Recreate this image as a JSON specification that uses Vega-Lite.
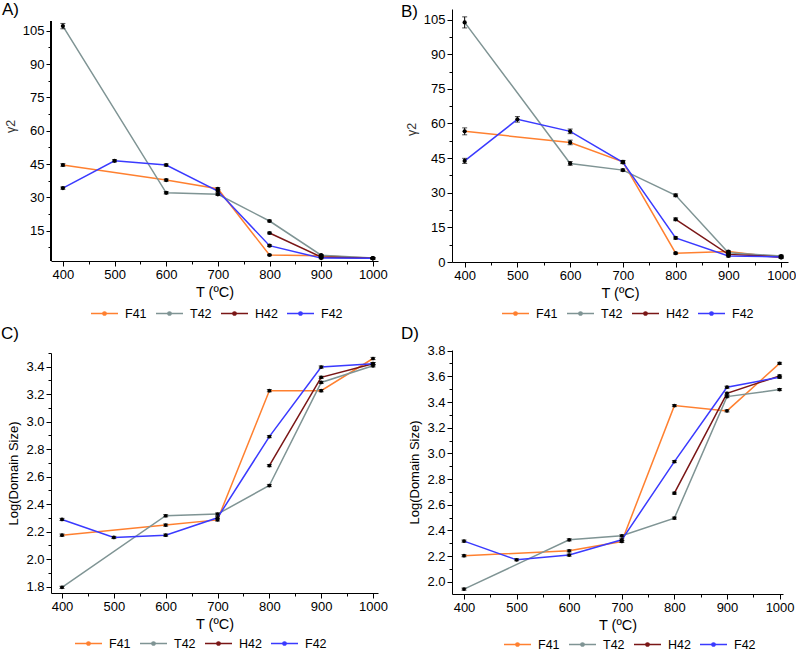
{
  "$schema": "https://vega.github.io/schema/vega-lite/v6.json",
  "autosize": {"type": "pad"},
  "padding": {"left": 1, "top": 1, "right": 0, "bottom": 0},
  "background": "white",
  "config": {
    "font": "Liberation Sans",
    "view": {"stroke": null},
    "axis": {"grid": false, "domainColor": "black", "tickColor": "black", "labelColor": "black", "labelFont": "Liberation Sans", "labelFontSize": 13, "labelPadding": 2, "titleFont": "Liberation Sans", "titleFontWeight": "normal", "titleColor": "black", "domainWidth": 1, "tickWidth": 1, "format": "d"},
    "axisX": {"titleFontSize": 14.5, "titlePadding": 4},
    "axisY": {"titleFontSize": 13, "titlePadding": 5},
    "title": {"font": "Liberation Sans", "fontSize": 17, "fontWeight": "normal", "color": "black", "anchor": "start", "frame": "group"},
    "legend": {"labelFont": "Liberation Sans", "labelFontSize": 12.5, "labelColor": "black"}
  },
  "data": {"values": [
    {"panel": "A", "series": "F41", "T": 400, "v": 44.6, "err": 0.6},
    {"panel": "A", "series": "F41", "T": 600, "v": 37.8, "err": 0.5},
    {"panel": "A", "series": "F41", "T": 700, "v": 33.9, "err": 0.5},
    {"panel": "A", "series": "F41", "T": 800, "v": 4.1, "err": 0.3},
    {"panel": "A", "series": "F41", "T": 900, "v": 3.8, "err": 0.3},
    {"panel": "A", "series": "F41", "T": 1000, "v": 2.6, "err": 0.3},
    {"panel": "A", "series": "T42", "T": 400, "v": 107.1, "err": 1.2},
    {"panel": "A", "series": "T42", "T": 600, "v": 32.1, "err": 0.5},
    {"panel": "A", "series": "T42", "T": 700, "v": 31.4, "err": 0.5},
    {"panel": "A", "series": "T42", "T": 800, "v": 19.4, "err": 0.4},
    {"panel": "A", "series": "T42", "T": 900, "v": 4.0, "err": 0.3},
    {"panel": "A", "series": "T42", "T": 1000, "v": 2.7, "err": 0.3},
    {"panel": "A", "series": "H42", "T": 800, "v": 14.0, "err": 0.4},
    {"panel": "A", "series": "H42", "T": 900, "v": 3.2, "err": 0.3},
    {"panel": "A", "series": "H42", "T": 1000, "v": 2.6, "err": 0.3},
    {"panel": "A", "series": "F42", "T": 400, "v": 34.2, "err": 0.5},
    {"panel": "A", "series": "F42", "T": 500, "v": 46.5, "err": 0.5},
    {"panel": "A", "series": "F42", "T": 600, "v": 44.6, "err": 0.5},
    {"panel": "A", "series": "F42", "T": 700, "v": 32.9, "err": 0.5},
    {"panel": "A", "series": "F42", "T": 800, "v": 8.3, "err": 0.4},
    {"panel": "A", "series": "F42", "T": 900, "v": 2.7, "err": 0.3},
    {"panel": "A", "series": "F42", "T": 1000, "v": 2.6, "err": 0.3},
    {"panel": "B", "series": "F41", "T": 400, "v": 56.6, "err": 1.5},
    {"panel": "B", "series": "F41", "T": 600, "v": 51.8, "err": 1.0},
    {"panel": "B", "series": "F41", "T": 700, "v": 43.4, "err": 0.6},
    {"panel": "B", "series": "F41", "T": 800, "v": 3.8, "err": 0.4},
    {"panel": "B", "series": "F41", "T": 900, "v": 4.5, "err": 0.4},
    {"panel": "B", "series": "F41", "T": 1000, "v": 1.9, "err": 0.4},
    {"panel": "B", "series": "T42", "T": 400, "v": 103.8, "err": 2.4},
    {"panel": "B", "series": "T42", "T": 600, "v": 42.7, "err": 0.8},
    {"panel": "B", "series": "T42", "T": 700, "v": 39.8, "err": 0.5},
    {"panel": "B", "series": "T42", "T": 800, "v": 28.9, "err": 0.6},
    {"panel": "B", "series": "T42", "T": 900, "v": 4.0, "err": 0.4},
    {"panel": "B", "series": "T42", "T": 1000, "v": 2.6, "err": 0.4},
    {"panel": "B", "series": "H42", "T": 800, "v": 18.5, "err": 0.6},
    {"panel": "B", "series": "H42", "T": 900, "v": 3.3, "err": 0.4},
    {"panel": "B", "series": "H42", "T": 1000, "v": 2.2, "err": 0.4},
    {"panel": "B", "series": "F42", "T": 400, "v": 43.8, "err": 1.1},
    {"panel": "B", "series": "F42", "T": 500, "v": 61.8, "err": 1.2},
    {"panel": "B", "series": "F42", "T": 600, "v": 56.6, "err": 1.0},
    {"panel": "B", "series": "F42", "T": 700, "v": 43.2, "err": 0.6},
    {"panel": "B", "series": "F42", "T": 800, "v": 10.4, "err": 0.5},
    {"panel": "B", "series": "F42", "T": 900, "v": 2.6, "err": 0.4},
    {"panel": "B", "series": "F42", "T": 1000, "v": 2.2, "err": 0.4},
    {"panel": "C", "series": "F41", "T": 400, "v": 2.175, "err": 0.008},
    {"panel": "C", "series": "F41", "T": 600, "v": 2.248, "err": 0.008},
    {"panel": "C", "series": "F41", "T": 700, "v": 2.286, "err": 0.008},
    {"panel": "C", "series": "F41", "T": 800, "v": 3.226, "err": 0.008},
    {"panel": "C", "series": "F41", "T": 900, "v": 3.226, "err": 0.008},
    {"panel": "C", "series": "F41", "T": 1000, "v": 3.46, "err": 0.008},
    {"panel": "C", "series": "T42", "T": 400, "v": 1.795, "err": 0.008},
    {"panel": "C", "series": "T42", "T": 600, "v": 2.316, "err": 0.008},
    {"panel": "C", "series": "T42", "T": 700, "v": 2.328, "err": 0.008},
    {"panel": "C", "series": "T42", "T": 800, "v": 2.536, "err": 0.008},
    {"panel": "C", "series": "T42", "T": 900, "v": 3.286, "err": 0.008},
    {"panel": "C", "series": "T42", "T": 1000, "v": 3.407, "err": 0.008},
    {"panel": "C", "series": "H42", "T": 800, "v": 2.681, "err": 0.008},
    {"panel": "C", "series": "H42", "T": 900, "v": 3.323, "err": 0.008},
    {"panel": "C", "series": "H42", "T": 1000, "v": 3.422, "err": 0.008},
    {"panel": "C", "series": "F42", "T": 400, "v": 2.289, "err": 0.008},
    {"panel": "C", "series": "F42", "T": 500, "v": 2.158, "err": 0.008},
    {"panel": "C", "series": "F42", "T": 600, "v": 2.175, "err": 0.008},
    {"panel": "C", "series": "F42", "T": 700, "v": 2.301, "err": 0.008},
    {"panel": "C", "series": "F42", "T": 800, "v": 2.892, "err": 0.008},
    {"panel": "C", "series": "F42", "T": 900, "v": 3.398, "err": 0.008},
    {"panel": "C", "series": "F42", "T": 1000, "v": 3.422, "err": 0.008},
    {"panel": "D", "series": "F41", "T": 400, "v": 2.203, "err": 0.008},
    {"panel": "D", "series": "F41", "T": 600, "v": 2.241, "err": 0.008},
    {"panel": "D", "series": "F41", "T": 700, "v": 2.314, "err": 0.008},
    {"panel": "D", "series": "F41", "T": 800, "v": 3.372, "err": 0.008},
    {"panel": "D", "series": "F41", "T": 900, "v": 3.331, "err": 0.008},
    {"panel": "D", "series": "F41", "T": 1000, "v": 3.701, "err": 0.008},
    {"panel": "D", "series": "T42", "T": 400, "v": 1.943, "err": 0.008},
    {"panel": "D", "series": "T42", "T": 600, "v": 2.327, "err": 0.008},
    {"panel": "D", "series": "T42", "T": 700, "v": 2.358, "err": 0.008},
    {"panel": "D", "series": "T42", "T": 800, "v": 2.496, "err": 0.008},
    {"panel": "D", "series": "T42", "T": 900, "v": 3.442, "err": 0.008},
    {"panel": "D", "series": "T42", "T": 1000, "v": 3.497, "err": 0.008},
    {"panel": "D", "series": "H42", "T": 800, "v": 2.690, "err": 0.008},
    {"panel": "D", "series": "H42", "T": 900, "v": 3.468, "err": 0.008},
    {"panel": "D", "series": "H42", "T": 1000, "v": 3.603, "err": 0.008},
    {"panel": "D", "series": "F42", "T": 400, "v": 2.317, "err": 0.008},
    {"panel": "D", "series": "F42", "T": 500, "v": 2.171, "err": 0.008},
    {"panel": "D", "series": "F42", "T": 600, "v": 2.208, "err": 0.008},
    {"panel": "D", "series": "F42", "T": 700, "v": 2.327, "err": 0.008},
    {"panel": "D", "series": "F42", "T": 800, "v": 2.936, "err": 0.008},
    {"panel": "D", "series": "F42", "T": 900, "v": 3.515, "err": 0.008},
    {"panel": "D", "series": "F42", "T": 1000, "v": 3.593, "err": 0.008}
  ]},
  "spacing": 13,
  "resolve": {"legend": {"color": "independent"}, "scale": {"x": "independent", "y": "independent"}},
  "hconcat": [
    {
      "spacing": 4,
      "resolve": {"legend": {"color": "independent"}, "scale": {"x": "independent", "y": "independent"}},
      "vconcat": [
        {
          "width": 327, "height": 252,
          "title": {"text": "A)", "dx": -49, "offset": -10},
          "transform": [{"filter": "datum.panel === 'A'"}],
          "encoding": {
            "x": {"field": "T", "type": "quantitative", "scale": {"domain": [377, 1010], "nice": false, "zero": false},
              "axis": {"title": "T (ºC)", "values": [400, 450, 500, 550, 600, 650, 700, 750, 800, 850, 900, 950, 1000], "labelExpr": "datum.value % 100 === 0 ? datum.label : ''", "tickSize": {"condition": {"test": "datum.value % 100 !== 0", "value": 3}, "value": 5}}},
            "y": {"field": "v", "type": "quantitative", "scale": {"domain": [1.4, 114.8], "nice": false, "zero": false},
              "axis": {"title": "γ2", "domain": false, "titleFontSize": 12.5, "titleColor": "#333333", "titleY": 117, "values": [7.5, 15, 22.5, 30, 37.5, 45, 52.5, 60, 67.5, 75, 82.5, 90, 97.5, 105], "labelExpr": "datum.value % 15 === 0 ? datum.label : ''", "tickSize": {"condition": {"test": "datum.value % 15 !== 0", "value": 3}, "value": 5}}}
          },
          "layer": [
            {"mark": {"type": "rule", "color": "black", "strokeWidth": 1},
             "encoding": {"x": {"datum": 377, "type": "quantitative"}, "y": {"datum": 1.4, "type": "quantitative"}, "y2": {"datum": 109.4}}},
            {"mark": {"type": "line", "strokeWidth": 1.5},
             "encoding": {"color": {"field": "series", "type": "nominal",
               "scale": {"domain": ["F41", "T42", "H42", "F42"], "range": ["#ff8030", "#7f9494", "#7a1616", "#3a3aff"]},
               "legend": {"orient": "none", "legendX": 39, "legendY": 290, "direction": "horizontal", "title": null, "symbolType": "M-1,0L1,0M-0.12,0A0.12,0.12,0,1,1,0.12,0A0.12,0.12,0,1,1,-0.12,0", "symbolSize": 729, "symbolStrokeWidth": 1.5, "labelOffset": 6, "columnPadding": 6}}}},
            {"mark": {"type": "errorbar", "ticks": {"size": 5, "color": "black"}, "rule": {"color": "black"}, "color": "black"},
             "encoding": {"yError": {"field": "err"}}},
            {"mark": {"type": "circle", "color": "black", "size": 18, "opacity": 1}}
          ]
        },
        {
          "width": 327, "height": 240,
          "title": {"text": "C)", "dx": -50, "offset": 10},
          "transform": [{"filter": "datum.panel === 'C'"}],
          "encoding": {
            "x": {"field": "T", "type": "quantitative", "scale": {"domain": [378.8, 1009.6], "nice": false, "zero": false},
              "axis": {"title": "T (ºC)", "values": [400, 450, 500, 550, 600, 650, 700, 750, 800, 850, 900, 950, 1000], "labelExpr": "datum.value % 100 === 0 ? datum.label : ''", "tickSize": {"condition": {"test": "datum.value % 100 !== 0", "value": 3}, "value": 5}}},
            "y": {"field": "v", "type": "quantitative", "scale": {"domain": [1.754, 3.5], "nice": false, "zero": false},
              "axis": {"title": "Log(Domain Size)", "values": [1.8, 1.9, 2.0, 2.1, 2.2, 2.3, 2.4, 2.5, 2.6, 2.7, 2.8, 2.9, 3.0, 3.1, 3.2, 3.3, 3.4, 3.5], "labelExpr": "round(datum.value*10) % 2 === 0 ? format(datum.value, '.1f') : ''", "tickSize": {"condition": {"test": "round(datum.value*10) % 2 !== 0", "value": 3}, "value": 5}}}
          },
          "layer": [
            {"mark": {"type": "line", "strokeWidth": 1.5},
             "encoding": {"color": {"field": "series", "type": "nominal",
               "scale": {"domain": ["F41", "T42", "H42", "F42"], "range": ["#ff8030", "#7f9494", "#7a1616", "#3a3aff"]},
               "legend": {"orient": "none", "legendX": 23, "legendY": 276, "direction": "horizontal", "title": null, "symbolType": "M-1,0L1,0M-0.12,0A0.12,0.12,0,1,1,0.12,0A0.12,0.12,0,1,1,-0.12,0", "symbolSize": 729, "symbolStrokeWidth": 1.5, "labelOffset": 6, "columnPadding": 6}}}},
            {"mark": {"type": "errorbar", "ticks": {"size": 5, "color": "black"}, "rule": {"color": "black"}, "color": "black"},
             "encoding": {"yError": {"field": "err"}}},
            {"mark": {"type": "circle", "color": "black", "size": 14, "opacity": 1}}
          ]
        }
      ]
    },
    {
      "spacing": 4,
      "resolve": {"legend": {"color": "independent"}, "scale": {"x": "independent", "y": "independent"}},
      "vconcat": [
        {
          "width": 336, "height": 253,
          "title": {"text": "B)", "dx": -51, "offset": -12},
          "transform": [{"filter": "datum.panel === 'B'"}],
          "encoding": {
            "x": {"field": "T", "type": "quantitative", "scale": {"domain": [376, 1013], "nice": false, "zero": false},
              "axis": {"title": "T (ºC)", "values": [400, 450, 500, 550, 600, 650, 700, 750, 800, 850, 900, 950, 1000], "labelExpr": "datum.value % 100 === 0 ? datum.label : ''", "tickSize": {"condition": {"test": "datum.value % 100 !== 0", "value": 3}, "value": 5}}},
            "y": {"field": "v", "type": "quantitative", "scale": {"domain": [0, 109.6], "nice": false, "zero": false},
              "axis": {"title": "γ2", "titleFontSize": 12.5, "titleColor": "#333333", "titleY": 120, "values": [0, 7.5, 15, 22.5, 30, 37.5, 45, 52.5, 60, 67.5, 75, 82.5, 90, 97.5, 105], "labelExpr": "datum.value % 15 === 0 ? datum.label : ''", "tickSize": {"condition": {"test": "datum.value % 15 !== 0", "value": 3}, "value": 5}}}
          },
          "layer": [
            {"mark": {"type": "line", "strokeWidth": 1.5},
             "encoding": {"color": {"field": "series", "type": "nominal",
               "scale": {"domain": ["F41", "T42", "H42", "F42"], "range": ["#ff8030", "#7f9494", "#7a1616", "#3a3aff"]},
               "legend": {"orient": "none", "legendX": 49, "legendY": 290, "direction": "horizontal", "title": null, "symbolType": "M-1,0L1,0M-0.12,0A0.12,0.12,0,1,1,0.12,0A0.12,0.12,0,1,1,-0.12,0", "symbolSize": 729, "symbolStrokeWidth": 1.5, "labelOffset": 6, "columnPadding": 6}}}},
            {"mark": {"type": "errorbar", "ticks": {"size": 5, "color": "black"}, "rule": {"color": "black"}, "color": "black"},
             "encoding": {"yError": {"field": "err"}}},
            {"mark": {"type": "circle", "color": "black", "size": 18, "opacity": 1}}
          ]
        },
        {
          "width": 331, "height": 244,
          "title": {"text": "D)", "dx": -51, "offset": 2},
          "transform": [{"filter": "datum.panel === 'D'"}],
          "encoding": {
            "x": {"field": "T", "type": "quantitative", "scale": {"domain": [377.2, 1006.5], "nice": false, "zero": false},
              "axis": {"title": "T (ºC)", "values": [400, 450, 500, 550, 600, 650, 700, 750, 800, 850, 900, 950, 1000], "labelExpr": "datum.value % 100 === 0 ? datum.label : ''", "tickSize": {"condition": {"test": "datum.value % 100 !== 0", "value": 3}, "value": 5}}},
            "y": {"field": "v", "type": "quantitative", "scale": {"domain": [1.905, 3.805], "nice": false, "zero": false},
              "axis": {"title": "Log(Domain Size)", "values": [2.0, 2.1, 2.2, 2.3, 2.4, 2.5, 2.6, 2.7, 2.8, 2.9, 3.0, 3.1, 3.2, 3.3, 3.4, 3.5, 3.6, 3.7, 3.8], "labelExpr": "round(datum.value*10) % 2 === 0 ? format(datum.value, '.1f') : ''", "tickSize": {"condition": {"test": "round(datum.value*10) % 2 !== 0", "value": 3}, "value": 5}}}
          },
          "layer": [
            {"mark": {"type": "line", "strokeWidth": 1.5},
             "encoding": {"color": {"field": "series", "type": "nominal",
               "scale": {"domain": ["F41", "T42", "H42", "F42"], "range": ["#ff8030", "#7f9494", "#7a1616", "#3a3aff"]},
               "legend": {"orient": "none", "legendX": 51, "legendY": 280, "direction": "horizontal", "title": null, "symbolType": "M-1,0L1,0M-0.12,0A0.12,0.12,0,1,1,0.12,0A0.12,0.12,0,1,1,-0.12,0", "symbolSize": 729, "symbolStrokeWidth": 1.5, "labelOffset": 6, "columnPadding": 6}}}},
            {"mark": {"type": "errorbar", "ticks": {"size": 5, "color": "black"}, "rule": {"color": "black"}, "color": "black"},
             "encoding": {"yError": {"field": "err"}}},
            {"mark": {"type": "circle", "color": "black", "size": 14, "opacity": 1}}
          ]
        }
      ]
    }
  ]
}
